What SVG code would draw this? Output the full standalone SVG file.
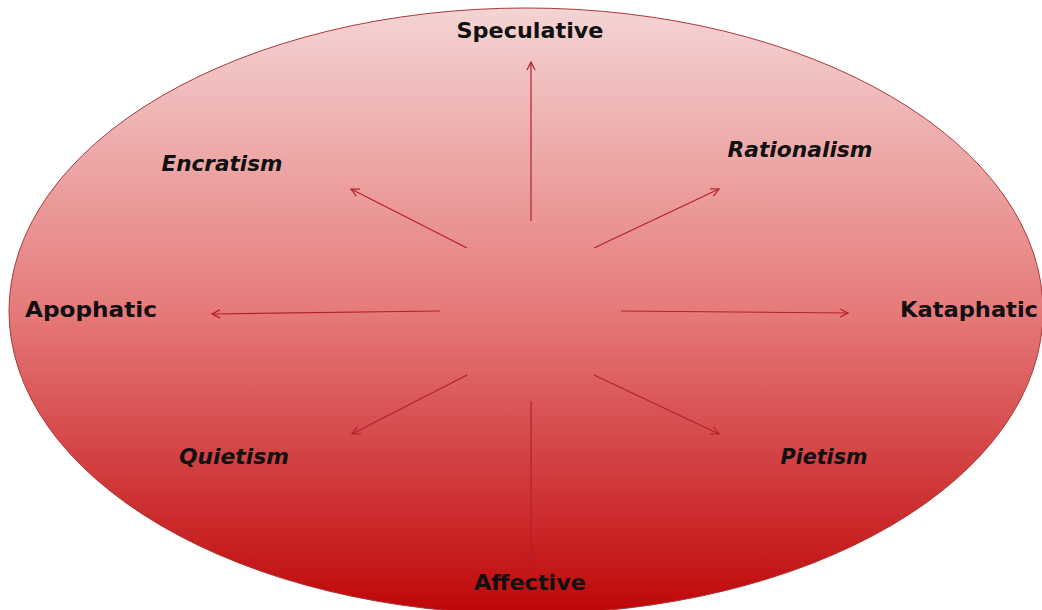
<svg xmlns="http://www.w3.org/2000/svg" width="1042" height="610" viewBox="0 0 1042 610">
<style>
.lbl{font-family:"DejaVu Sans","Liberation Sans",sans-serif;font-weight:bold;font-size:21px;fill:#111;text-anchor:middle}
.it{font-style:italic}
.conn line{stroke:#b3202c;stroke-width:1.2;fill:none;marker-end:url(#ah)}
</style>
<defs>
<linearGradient id="bg" x1="0" y1="0" x2="0" y2="1">
<stop offset="0" stop-color="#f4d4d4"/>
<stop offset="0.5" stop-color="#e67a7a"/>
<stop offset="1" stop-color="#bf0608"/>
</linearGradient>
<marker id="ah" viewBox="0 0 10 10" refX="9" refY="5" markerWidth="10" markerHeight="10" markerUnits="userSpaceOnUse" orient="auto">
<path d="M1,1 L9,5 L1,9" fill="none" stroke="#b3202c" stroke-width="1.2"/>
</marker>
</defs>
<rect width="1042" height="610" fill="#ffffff"/>
<g id="circle">
<ellipse cx="526" cy="311" rx="517" ry="303" fill="url(#bg)" stroke="#a83a3a" stroke-width="1"/>
</g>
<g class="conn" id="connectors">
<line x1="531" y1="221" x2="531" y2="62"/>
<line x1="467" y1="248" x2="351" y2="189"/>
<line x1="594" y1="248" x2="719" y2="189"/>
<line x1="440" y1="311" x2="212" y2="314"/>
<line x1="621" y1="311" x2="848" y2="313"/>
<line x1="467" y1="375" x2="352" y2="434"/>
<line x1="594" y1="375" x2="719" y2="434"/>
<line x1="531" y1="401" x2="531" y2="560"/>
</g>
<g id="speculative"><text class="lbl" x="530" y="38" textLength="147" lengthAdjust="spacingAndGlyphs">Speculative</text></g>
<g id="encratism"><text class="lbl it" x="222" y="171" textLength="121" lengthAdjust="spacingAndGlyphs">Encratism</text></g>
<g id="rationalism"><text class="lbl it" x="800" y="157" textLength="145" lengthAdjust="spacingAndGlyphs">Rationalism</text></g>
<g id="apophatic"><text class="lbl" x="91" y="317" textLength="132" lengthAdjust="spacingAndGlyphs">Apophatic</text></g>
<g id="kataphatic"><text class="lbl" x="969" y="317" textLength="138" lengthAdjust="spacingAndGlyphs">Kataphatic</text></g>
<g id="quietism"><text class="lbl it" x="234" y="464" textLength="110" lengthAdjust="spacingAndGlyphs">Quietism</text></g>
<g id="pietism"><text class="lbl it" x="824" y="464" textLength="87" lengthAdjust="spacingAndGlyphs">Pietism</text></g>
<g id="affective"><text class="lbl" x="530" y="590" textLength="112" lengthAdjust="spacingAndGlyphs">Affective</text></g>
</svg>
